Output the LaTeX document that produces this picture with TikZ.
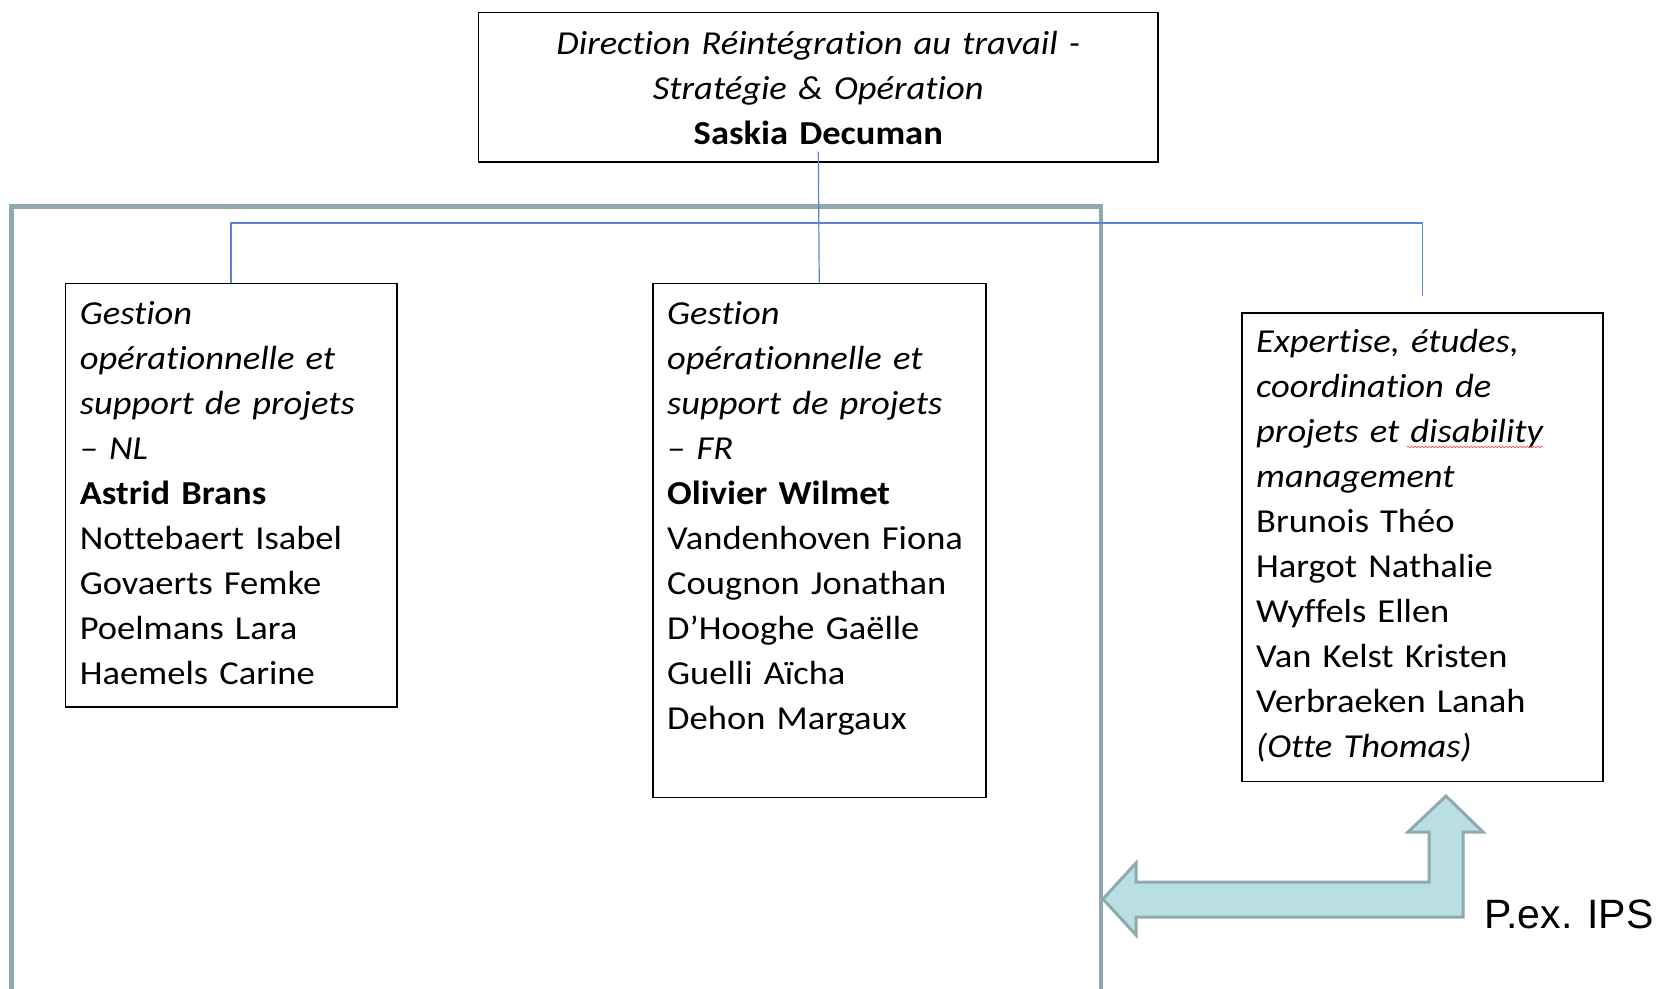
\documentclass[tikz,border=0pt]{standalone}
\usepackage{fontspec}
\setmainfont{Carlito}[FakeStretch=1.09, Ligatures=CommonOff]
\newfontfamily\arialfont{Liberation Sans}
\usepackage{tikz}
\usetikzlibrary{decorations.pathmorphing}
\definecolor{rtgrey}{HTML}{8FA9AC}
\definecolor{rtcyan}{HTML}{BADFE3}
\definecolor{rtblue}{HTML}{5B84D4}

\begin{document}
\begin{tikzpicture}[x=1pt,y=-1pt,
  orgbox/.style={draw=black, line width=1.5pt, inner sep=0pt, anchor=north west},
  orgtext/.style={anchor=base west, inner sep=0pt, text width=340pt, align=left, font=\fontsize{33.5}{45}\selectfont},
  link/.style={draw=rtblue, line width=1.2pt}]
\clip (0,0) rectangle (1660,988);

% direction
\node[orgbox, anchor=center, minimum width=679.5, minimum height=149.3] (dir) at (818.3,87.3) {};
\node[orgtext, anchor=base, text width=660pt, align=center] (dirtxt) at (818.3,54) {%
\textit{Direction Réintégration au travail -}\\
\textit{Stratégie \& Opération}\\
\textbf{Saskia Decuman}};

% big frame
\draw[rtgrey, line width=4.5pt] (11.6,206.5) rectangle (1101,1000);

% teams
\node[orgbox, minimum width=331.4, minimum height=423.5] (nl) at (64.6,282.7) {};
\node[orgtext] (nltxt) at ([shift={(15,41.3)}]nl.north west) {%
\textit{Gestion}\\
\textit{opérationnelle et}\\
\textit{support de projets}\\
\textit{– NL}\\
\textbf{Astrid Brans}\\
Nottebaert Isabel\\
Govaerts Femke\\
Poelmans Lara\\
Haemels Carine};

\node[orgbox, minimum width=333, minimum height=514] (fr) at (652,282.7) {};
\node[orgtext] (frtxt) at ([shift={(15,41.3)}]fr.north west) {%
\textit{Gestion}\\
\textit{opérationnelle et}\\
\textit{support de projets}\\
\textit{– FR}\\
\textbf{Olivier Wilmet}\\
Vandenhoven Fiona\\
Cougnon Jonathan\\
D’Hooghe Gaëlle\\
Guelli Aïcha\\
Dehon Margaux};

\node[orgbox, minimum width=361, minimum height=468.6] (exp) at (1241,312.3) {};
\node[orgtext] (exptxt) at ([shift={(15,40.5)}]exp.north west) {%
\textit{Expertise, études,}\\
\textit{coordination de}\\
\textit{projets et disability}\\
\textit{management}\\
Brunois Théo\\
Hargot Nathalie\\
Wyffels Ellen\\
Van Kelst Kristen\\
Verbraeken Lanah\\
\textit{(Otte Thomas)}};
% spelling mark under "disability"
\draw[red!80, line width=0.6pt, decorate, decoration={snake, amplitude=0.8pt, segment length=3.5pt}]
  (1407,447) -- (1543,447);

% connectors
\coordinate (bus) at (818.3,223);
\draw[link] ([yshift=11pt]dir.south) -- (fr.north);
\draw[link] (nl.north) |- (bus) -| ([yshift=16pt]exp.north);

% bent double arrow
\draw[rtgrey, fill=rtcyan, line width=3pt, line join=miter]
  (1103,899) -- (1136,863) -- (1136,882) -- (1429,882) -- (1429,832)
  -- (1408,832) -- (1446,796) -- (1483,832) -- (1463,832) -- (1463,917)
  -- (1136,917) -- (1136,935) -- cycle;
\node[anchor=base west, inner sep=0pt, font=\arialfont\fontsize{41}{48}\selectfont] (ips) at (1484,928) {P.ex. IPS};
\end{tikzpicture}
\end{document}
